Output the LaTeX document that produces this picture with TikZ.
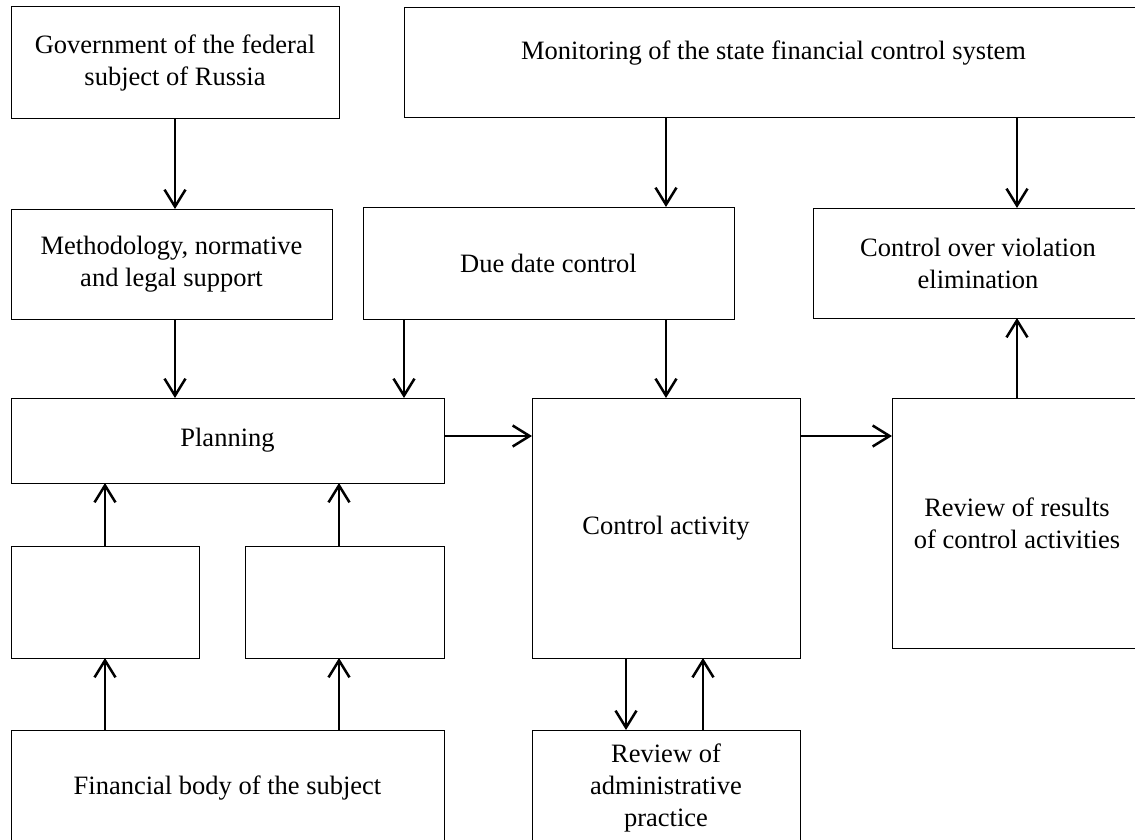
\documentclass[tikz,border=0pt]{standalone}
\usepackage{fontspec}
\setmainfont{Liberation Serif}
\usetikzlibrary{arrows.meta}
\begin{document}
\begin{tikzpicture}[x=1pt,y=-1pt,
    box/.style={draw,line width=1pt,outer sep=0pt,align=center,font=\fontsize{26.5}{32}\selectfont},
    ar/.style={line width=2.5pt,-{Straight Barb[length=17pt,width=21pt]}}]
    \useasboundingbox(0,0)rectangle(1135,840);
    \clip(0,0)rectangle(1135,840);
    \node[box,minimum width=328,minimum height=112](1)at(175,63){Government of the federal\\subject of Russia};
    \node[box,minimum width=739,minimum height=110](2)at(773.5,63){Monitoring of the state financial control system\\[-16pt]\strut};
    \node[box,minimum width=321,minimum height=110](3)at(171.5,264){Methodology, normative\\and legal support};
    \node[box,minimum width=371,minimum height=112](4)at(548.5,263){Due date control};
    \node[box,minimum width=330,minimum height=110](5)at(978,263){Control over violation\\elimination};
    \node[box,minimum width=433,minimum height=85](6)at(227.5,440.5){Planning};
    \node[box,minimum width=268,minimum height=260](7)at(666,528){Control activity};
    \node[box,minimum width=250,minimum height=250](8)at(1017,523){Review of results\\of control activities};
    \node[box,minimum width=188,minimum height=112](9)at(105,602){};
    \node[box,minimum width=199,minimum height=112](10)at(344.5,602){};
    \node[box,minimum width=433,minimum height=116](11)at(227.5,788){Financial body of the subject};
    \node[box,minimum width=268,minimum height=116](12)at(666,788){Review of\\administrative\\practice};
    \coordinate(d)at([xshift=41]4.south west);
    \coordinate(p)at([yshift=4.5]6.east);
    \coordinate(e)at([xshift=-5.5]10.north);
    \coordinate(f)at([xshift=-5.5]10.south);
    \coordinate(g)at([xshift=-40]7.south);
    \coordinate(h)at([xshift=37]7.south);
    \draw[ar](1)--(1|-3.north);
    \draw[ar](2.south-|7.north)--(4.north-|7.north);
    \draw[ar](2.south-|8.north)--(5.north-|8.north);
    \draw[ar](3.south-|1.south)--(6.north-|1.south);
    \draw[ar](d)--(d|-6.north);
    \draw[ar](4.south-|7.north)--(7.north);
    \draw[ar](p)--(p-|7.west);
    \draw[ar](p-|7.east)--(p-|8.west);
    \draw[ar](8.north)--(8.north|-5.south);
    \draw[ar](9.north)--(9.north|-6.south);
    \draw[ar](e)--(e|-6.south);
    \draw[ar](9.south|-11.north)--(9.south);
    \draw[ar](f|-11.north)--(f);
    \draw[ar](g)--(g|-12.north);
    \draw[ar](h|-12.north)--(h);
\end{tikzpicture}
\end{document}
